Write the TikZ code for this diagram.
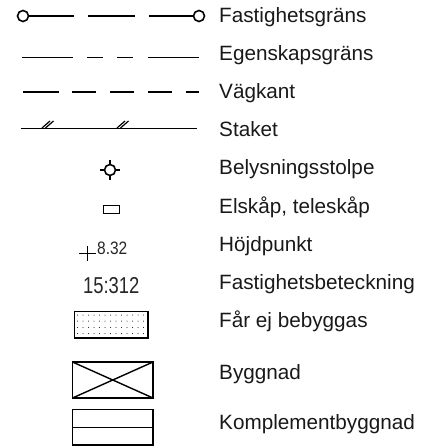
\documentclass[tikz,border=0pt]{standalone}
\usepackage{fontspec}
\setmainfont{Liberation Sans}
\tikzset{
 lbl/.style={anchor=base west,inner sep=0pt,font=\fontsize{20.7}{22}\selectfont,text=black!90},
 iso/.style={inner sep=0pt,anchor=base west,text=black!85},
 ln/.style={line width=1.6pt,black},
 thin/.style={line width=1.2pt,black},
 box/.style={line width=1.4pt,black}
}
\begin{document}
\begin{tikzpicture}[x=1pt,y=-1pt]
\useasboundingbox (0,0) rectangle (435,446);
% labels
\node[lbl] (l1) at (219,22.7) {Fastighetsgräns};
\node[lbl] (l2) at (219,61) {Egenskapsgräns};
\node[lbl] (l3) at (219,99) {Vägkant};
\node[lbl] (l4) at (219,137) {Staket};
\node[lbl] (l5) at (219,175) {Belysningsstolpe};
\node[lbl] (l6) at (219,213.3) {Elskåp, teleskåp};
\node[lbl] (l7) at (219,251.7) {Höjdpunkt};
\node[lbl] (l8) at (219,289.3) {Fastighetsbeteckning};
\node[lbl] (l9) at (219,327.5) {Får ej bebyggas};
\node[lbl] (l10) at (219,379) {Byggnad};
\node[lbl] (l11) at (219,429) {Komplementbyggnad};
% row 1
\draw[ln] (23,16) circle (5.5);
\draw[ln] (199,16) circle (5.5);
\draw[ln] (28.5,16) -- (74,16);
\draw[ln] (88,16) -- (135,16);
\draw[ln] (149,16) -- (193.5,16);
% row 2
\foreach \a/\b in {22/73,87/103,117/133,148/199} \draw[ln] (\a,57.7) -- (\b,57.7);
% row 3
\foreach \a/\b in {23/59,72/96,110/134,148/172,186/199} \draw[ln] (\a,92) -- (\b,92);
% row 4
\draw[ln] (21,128.5) -- (197,128.5);
\foreach \x in {42,117} {
 \draw[thin] (\x,128) -- (\x+8,121);
 \draw[thin] (\x+3.5,128) -- (\x+11.5,121);
}
% lamp
\draw[ln] (110,170) circle (5.5);
\foreach \dx/\dy in {1/0,-1/0,0/1,0/-1}
 \draw[thin] (110+5.5*\dx,170+5.5*\dy) -- (110+10*\dx,170+10*\dy);
% cabinet
\draw[ln] (103.5,205.5) rectangle (119.5,213.5);
% height point
\draw[thin] (79,253.5) -- (96,253.5);
\draw[thin] (87.5,246) -- (87.5,261);
\node[iso,font=\fontsize{18}{20}\selectfont,xscale=.86] (h) at (97,254) {8.32};
\node[iso,font=\fontsize{23}{25}\selectfont,xscale=.8] (f) at (83,293) {15:312};
% no build
\draw[box] (74.5,311.5) rectangle (148,338);
\foreach \r in {0,1,2,3} \foreach \c in {0,...,12}
 \fill[black] (77.5+5.5*\c,315+6.2*\r) circle (.5);
% building
\draw[line width=1.6pt] (72.5,362) rectangle (153,398);
\draw[box] (72.5,362) -- (153,398) (72.5,398) -- (153,362);
% complementary
\draw[box] (72.5,409.5) rectangle (153,445);
\draw[box] (72.5,427.5) -- (153,427.5);
\end{tikzpicture}
\end{document}
